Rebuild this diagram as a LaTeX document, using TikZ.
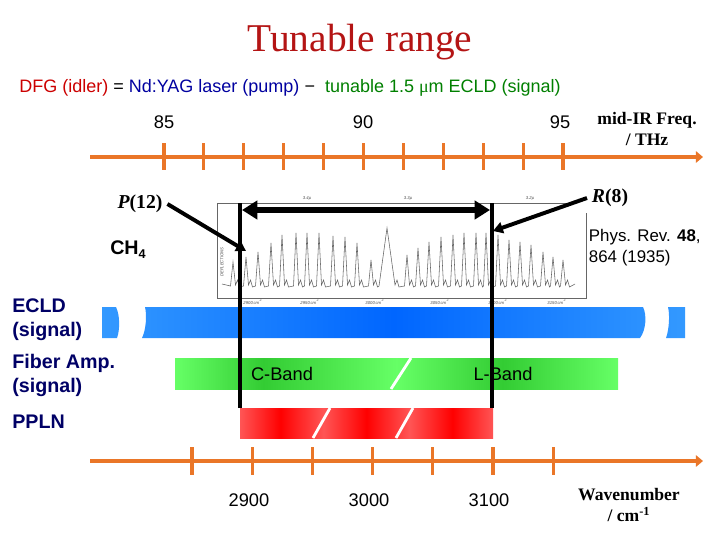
\documentclass[tikz,border=0pt]{standalone}
\usepackage{fontspec}
\setmainfont{Liberation Sans}
\newfontfamily\timesfont{Liberation Serif}
\usetikzlibrary{arrows.meta,positioning}

\definecolor{titlered}{RGB}{180,20,20}
\definecolor{dfgred}{RGB}{204,0,0}
\definecolor{pumpblue}{RGB}{0,0,160}
\definecolor{signalgreen}{RGB}{0,128,0}
\definecolor{labelnavy}{RGB}{0,0,102}
\definecolor{axisorange}{RGB}{234,118,40}
\definecolor{ecldlight}{RGB}{51,153,255}
\definecolor{eclddark}{RGB}{0,102,255}
\definecolor{amplight}{RGB}{102,255,102}
\definecolor{ampdark}{RGB}{51,204,51}
\definecolor{pplnlight}{RGB}{255,85,85}
\definecolor{pplndark}{RGB}{255,0,0}

\pgfdeclarehorizontalshading{ecldshade}{100bp}{color(0bp)=(ecldlight); color(25bp)=(ecldlight);
  color(50bp)=(eclddark); color(75bp)=(ecldlight); color(100bp)=(ecldlight)}
\pgfdeclarehorizontalshading{ampshade}{100bp}{color(0bp)=(amplight); color(25bp)=(amplight);
  color(35bp)=(ampdark); color(50bp)=(amplight); color(62bp)=(ampdark); color(75bp)=(amplight); color(100bp)=(amplight)}
\pgfdeclarehorizontalshading{pplnshade}{100bp}{color(0bp)=(pplnlight); color(25bp)=(pplnlight);
  color(33bp)=(pplndark); color(41.5bp)=(pplnlight); color(50bp)=(pplndark); color(58.5bp)=(pplnlight);
  color(67bp)=(pplndark); color(75bp)=(pplnlight); color(100bp)=(pplnlight)}

\begin{document}
\begin{tikzpicture}[x=0.025cm,y=-0.025cm]
  \tikzstyle{axis} = [line width=3.5pt, draw=axisorange, -{Triangle[length=5pt,width=8pt]}]
  \tikzstyle{tick} = [line width=2.2pt, draw=axisorange]
  \tikzstyle{rowlabel} = [anchor=west, align=left, text=labelnavy, inner sep=0pt,
  font=\fontsize{14}{17}\selectfont\bfseries]
  \tikzstyle{num} = [font=\fontsize{13}{15}\selectfont]
  \tikzstyle{unit} = [font=\timesfont\bfseries\fontsize{12.5}{15}\selectfont, align=center]
  \tikzstyle{limit} = [line width=3pt, draw=black]
  \tikzstyle{pointer} = [line width=2.8pt, draw=black, -{Triangle[length=7pt,width=8pt]}]
  \tikzstyle{slash} = [line width=2pt, draw=white]
  \tikzstyle{scan} = [draw=black!60, line width=0.4pt]
  \tikzstyle{scantext} = [font=\fontsize{3}{3}\selectfont\itshape, text=black!70, inner sep=0pt]
\fill [white] (0,0) rectangle (720,540);
\useasboundingbox (0,0) rectangle (720,540);
% titles
\node [text=titlered, font=\timesfont\fontsize{28}{32}\selectfont] (title) at (360,42) {Tunable range};
\node [anchor=west, font=\fontsize{12.8}{15}\selectfont, inner sep=0pt] (dfg) at (19,88)
  {\textcolor{dfgred}{DFG (idler)} = \textcolor{pumpblue}{Nd:YAG laser (pump)} −\ \ \textcolor{signalgreen}{tunable 1.5 {\timesfont μ}m ECLD (signal)}};
% frequency axis
\coordinate (f0) at (90,157);
\coordinate (f1) at (703,157);
\path [axis] (f0) -- (f1);
\foreach \i in {0,...,10} \draw [tick] ({164+39.9*\i},143) -- ({164+39.9*\i},170);
\node [num] (n85) at (164,122) {85};
\node [num] (n90) at (363,122) {90};
\node [num] (n95) at (560,122) {95};
\node [unit] (thz) at (647,129) {mid-IR Freq.\\/ THz};
% scanned CH4 spectrum
\draw [scan] (217,203) -- (570,203);
\draw [scan] (217,203) -- (217,298) -- (586,298) -- (586,213);
\draw [scan] (222,284) \foreach \x/\y/\w in {233/262/2.5,246/257/2.5,258/252/2.5,271/243/2.5,282/235/2.5,
  296/233/2.5,307/233/2.5,319/233/2.5,333/236/2.5,345/237/2.5,357/243/2.5,371/260/2.5,387/228/8,
  407/255/2.5,418/248/2.5,429/242/2.5,441/237/2.5,453/235/2.5,464/233/2.5,476/233/2.5,486/233/2.5,
  498/235/2.5,509/240/2.5,520/242/2.5,531/245/2.5,543/252/2.5,553/257/2.5,563/260/2.5}
  { -- ({\x-\w},286) -- (\x,\y) -- ({\x+\w},285) -- ({\x+\w+2},280) -- ({\x+\w+4},287) } -- (575,284);
\node [scantext, rotate=90] (defl) at (222,262) {DEFLECTIONS};
\node [scantext] (s34) at (307,198) {3.4μ};
\node [scantext] (s33) at (408,198) {3.3μ};
\node [scantext] (s32) at (530,198) {3.2μ};
\foreach \x/\t in {253/2900,310/2950,375/3000,440/3050,498/3100,557/3150}
  \node [scantext] at (\x,302) {\t\,cm\textsuperscript{-1}};
\node [font=\timesfont\bfseries\fontsize{14}{16}\selectfont] (p12) at (140,204) {\textit{P}(12)};
\node [font=\timesfont\bfseries\fontsize{14}{16}\selectfont] (r8) at (610,198) {\textit{R}(8)};
\node [font=\fontsize{14}{16}\selectfont\bfseries] (ch4) at (128,250) {CH\raisebox{-3pt}{\fontsize{9}{9}\selectfont 4}};
\node [anchor=west, align=left, font=\fontsize{12}{15}\selectfont] (ref) at (584,248) {Phys. Rev. \textbf{48},\\864 (1935)};
% source rows
\node [rowlabel] (ecld) at (12,320) {ECLD\\(signal)};
\node [rowlabel] (amp) at (12,375) {Fiber Amp.\\(signal)};
\node [rowlabel] (ppln) at (12,422) {PPLN};
\begin{scope}
  \clip (102,307) -- (116,307) .. controls (120,315) and (120,330) .. (117,338) -- (102,338) -- cycle
  (145,307) -- (643,307) .. controls (647,315) and (646,330) .. (640,338) -- (142,338)
  .. controls (146,330) and (147,315) .. (145,307) -- cycle
  (668,307) -- (685,307) -- (685,338) -- (666,338) .. controls (669,330) and (670,315) .. (668,307) -- cycle;
  \shade [shading=ecldshade] (102,307) rectangle (685,338);
\end{scope}
\shade [shading=ampshade] (175,358) rectangle (618,389);
\path [slash] (411,358) -- (391,389);
\node [font=\fontsize{13}{15}\selectfont] (cband) at (282,374) {C-Band};
\node [font=\fontsize{13}{15}\selectfont] (lband) at (503,374) {L-Band};
\shade [shading=pplnshade] (240,408) rectangle (493,438);
\path [slash] (330,408) -- (313,438);
\path [slash] (413,408) -- (396,438);
% tuning limits
\coordinate (lt) at (240,203);
\coordinate (lb) at (240,408);
\coordinate (rt) at (492,203);
\coordinate (rb) at (492,408);
\path [limit] (lt) -- (lb);
\path [limit] (rt) -- (rb);
\coordinate (al) at (242,210);
\coordinate (ar) at (490,210);
\path [draw, line width=4.5pt, {Triangle[length=11pt,width=13pt]}-{Triangle[length=11pt,width=13pt]}] (al) -- (ar);
\coordinate (ptip) at (246,251);
\coordinate (rtip) at (493,231);
\path [pointer] (p12.east) -- (ptip);
\path [pointer] (r8.west) -- (rtip);
% wavenumber axis
\coordinate (w0) at (90,461);
\coordinate (w1) at (703,461);
\path [axis] (w0) -- (w1);
\foreach \i in {0,...,6} \draw [tick] ({192+60.2*\i},447) -- ({192+60.2*\i},475);
\node [num] (n2900) at (249,500) {2900};
\node [num] (n3000) at (369,500) {3000};
\node [num] (n3100) at (489,500) {3100};
\node [unit] (wn) at (629,505) {Wavenumber\\/ cm\textsuperscript{-1}};
%\draw (lt) -- (rt);
\end{tikzpicture}
\end{document}
